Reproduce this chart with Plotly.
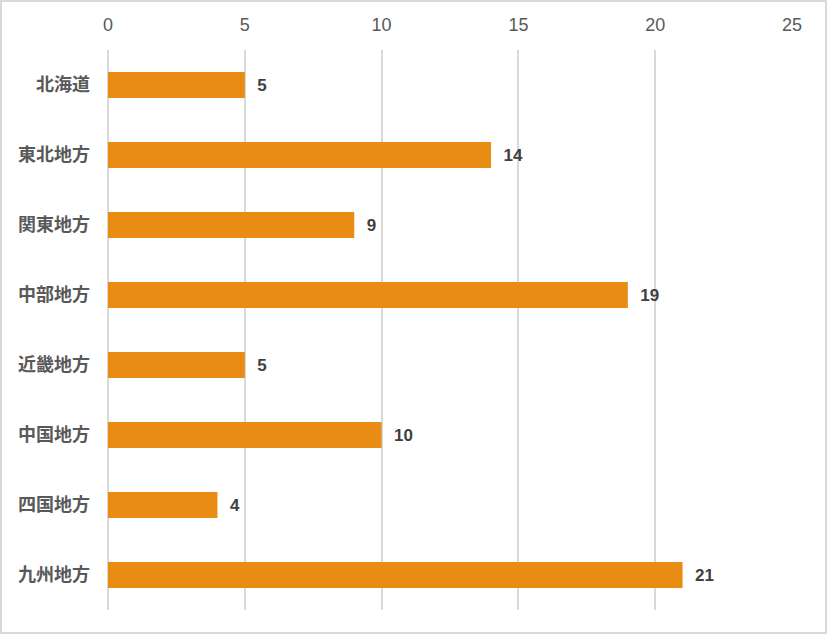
import plotly.graph_objects as go

regions = ["北海道", "東北地方", "関東地方", "中部地方", "近畿地方", "中国地方", "四国地方", "九州地方"]
values = [5, 14, 9, 19, 5, 10, 4, 21]
x_ticks = [0, 5, 10, 15, 20, 25]

bar_color = "#E88C14"
font_family = "Liberation Sans, Noto Sans CJK JP, sans-serif"

fig = go.Figure(go.Bar(
    y=regions, x=values, orientation="h",
    marker=dict(color=bar_color, line=dict(width=0)),
    width=0.37,
    text=[str(v) for v in values],
    texttemplate="  %{text}",
    textposition="outside",
    textfont=dict(size=17, color="#404040", family=font_family, weight=600),
    cliponaxis=False,
))

W, H = 827, 634
ml, mr, mt, mb = 108, 35, 50, 24
pw, ph = W - ml - mr, H - mt - mb

fig.update_layout(
    width=W, height=H,
    margin=dict(l=ml, r=mr, t=mt, b=mb),
    paper_bgcolor="white", plot_bgcolor="white",
    font=dict(family=font_family),
    showlegend=False,
    uniformtext=dict(minsize=17),
    xaxis=dict(
        side="top", range=[0, 25], tickvals=x_ticks,
        showgrid=True, gridcolor="#D9D9D9", gridwidth=2,
        zeroline=True, zerolinecolor="#D9D9D9", zerolinewidth=2,
        showline=False, ticks="", ticklabelstandoff=14,
        tickfont=dict(size=18, color="#595959", family=font_family),
        fixedrange=True,
    ),
    yaxis=dict(
        categoryorder="array", categoryarray=regions, autorange="reversed",
        showgrid=False, showline=False, zeroline=False, ticks="",
        ticklabelstandoff=17,
        tickfont=dict(size=18, color="#595959", family=font_family, weight=600),
        fixedrange=True,
    ),
    shapes=[dict(
        type="rect", xref="paper", yref="paper",
        x0=(1 - ml) / pw, x1=(W - 1 - ml) / pw,
        y0=(H - mb - (H - 1)) / ph, y1=(H - mb - 1) / ph,
        line=dict(color="#D9D9D9", width=2), fillcolor="rgba(0,0,0,0)",
        layer="below",
    )],
)

fig.write_html("out.html", post_script="document.body.style.margin='0';",
               config={"displayModeBar": False})
